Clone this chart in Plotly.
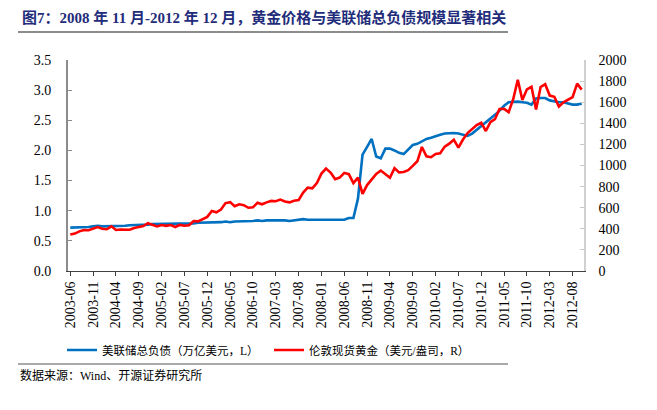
import plotly.graph_objects as go

# ---------------- data ----------------
start_year, start_month, n_months = 2003, 6, 113
months = []
y, m = start_year, start_month
for _ in range(n_months):
    months.append(f"{y}-{m:02d}")
    m += 1
    if m > 12:
        m = 1
        y += 1

fed_assets = [
    0.72, 0.72, 0.72, 0.72, 0.73, 0.74, 0.75, 0.74, 0.74, 0.74,
    0.75, 0.75, 0.75, 0.76, 0.76, 0.76, 0.77, 0.77, 0.78, 0.78,
    0.79, 0.78, 0.78, 0.78, 0.79, 0.79, 0.79, 0.79, 0.80, 0.80,
    0.81, 0.81, 0.81, 0.81, 0.82, 0.81, 0.82, 0.82, 0.82, 0.83,
    0.83, 0.84, 0.83, 0.84, 0.84, 0.84, 0.85, 0.84, 0.83, 0.84,
    0.85, 0.86, 0.85, 0.85, 0.86, 0.86, 0.85, 0.86, 0.86, 0.86,
    0.85, 0.88, 0.88, 1.20, 1.93, 2.06, 2.19, 1.90, 1.87, 2.03,
    2.03, 2.00, 1.96, 1.94, 2.02, 2.09, 2.11, 2.15, 2.19, 2.21,
    2.24, 2.26, 2.28, 2.29, 2.29, 2.28, 2.26, 2.24, 2.28, 2.34,
    2.40, 2.46, 2.53, 2.59, 2.66, 2.74, 2.80, 2.81, 2.81, 2.80,
    2.79, 2.76, 2.86, 2.87, 2.87, 2.83, 2.81, 2.80, 2.80, 2.78,
    2.76, 2.76, 2.78,
]

gold_price = [
    346.0, 354.8, 375.6, 388.0, 386.3, 398.4, 416.3,
    399.8, 395.9, 423.7, 388.5, 393.3, 395.8, 391.4, 407.3, 415.7, 425.6, 453.4, 435.6,
    422.2, 435.5, 427.5, 435.7, 417.3, 437.1, 429.0, 433.3, 473.3, 470.8, 495.7, 513.0,
    568.8, 556.0, 582.0, 644.0, 653.0, 613.5, 632.5, 623.5, 599.3, 603.8, 646.7, 632.0,
    650.5, 664.2, 661.8, 677.0, 659.1, 650.5, 665.5, 672.0, 743.0, 789.5, 783.5, 833.8,
    923.3, 971.5, 933.5, 871.0, 885.8, 930.3, 918.0, 833.0, 884.5, 730.8, 814.5, 869.8,
    919.5, 952.0, 916.5, 883.3, 975.5, 934.5, 939.0, 955.5, 995.8, 1040.0, 1175.8, 1087.5,
    1078.5, 1109.5, 1115.5, 1179.3, 1207.5, 1244.0, 1169.0, 1246.0, 1307.0, 1346.8, 1383.5, 1405.5,
    1327.0, 1411.0, 1439.0, 1535.5, 1536.5, 1505.5, 1628.5, 1813.5, 1620.0, 1722.0, 1746.0, 1531.0,
    1744.0, 1770.0, 1662.5, 1651.3, 1558.0, 1598.5, 1622.0, 1648.5, 1776.0, 1719.0,
]

tick_labels = [
    "2003-06", "2003-11", "2004-04", "2004-09", "2005-02", "2005-07",
    "2005-12", "2006-05", "2006-10", "2007-03", "2007-08", "2008-01",
    "2008-06", "2008-11", "2009-04", "2009-09", "2010-02", "2010-07",
    "2010-12", "2011-05", "2011-10", "2012-03", "2012-08",
]

series_names = ["美联储总负债（万亿美元，L）", "伦敦现货黄金（美元/盎司，R）"]
title_text = "图7：2008 年 11 月-2012 年 12 月，黄金价格与美联储总负债规模显著相关"
source_text = "数据来源：Wind、开源证券研究所"

# ---------------- figure ----------------
# The page body adds an 8px margin, so screen coords = figure coords + 8.
OFF = 8
W, H = 657, 410
PL, PR, PT, PB = 68, 584, 60, 271          # plot box in screen pixels
L = PL - OFF
T = PT - OFF
R = W - (PR - OFF)
B = H - (PB - OFF)
PW, PH = W - L - R, H - T - B

def px_x(px):
    return (px - OFF - L) / PW

def px_y(py):
    return (H - B - (py - OFF)) / PH

FONT = "Liberation Serif, Noto Sans CJK SC, serif"

fig = go.Figure()
fig.add_trace(go.Scatter(
    x=months, y=fed_assets, name=series_names[0], mode="lines",
    line=dict(color="#0070C0", width=2.6), yaxis="y",
))
fig.add_trace(go.Scatter(
    x=months, y=gold_price, name=series_names[1], mode="lines",
    line=dict(color="#FF0000", width=2.6), yaxis="y2",
))

fig.update_layout(
    width=W, height=H,
    margin=dict(l=L, r=R, t=T, b=B, pad=0),
    paper_bgcolor="white", plot_bgcolor="white",
    font=dict(family=FONT, size=14, color="#000000"),
    showlegend=True,
    legend=dict(
        orientation="h", x=px_x(62), y=px_y(350), xanchor="left", yanchor="middle",
        font=dict(family=FONT, size=11.5, color="#000000"),
        itemwidth=30, entrywidth=162, entrywidthmode="pixels",
        bgcolor="rgba(0,0,0,0)", borderwidth=0, tracegroupgap=0,
    ),
    xaxis=dict(
        type="category", categoryorder="array", categoryarray=months,
        range=[-0.5, n_months - 0.5],
        tickmode="array", tickvals=tick_labels, ticktext=tick_labels,
        tickangle=-90, ticks="outside", ticklen=4, tickcolor="#404040",
        showline=True, linecolor="#404040", linewidth=1,
        showgrid=False, zeroline=False,
        tickfont=dict(family=FONT, size=14),
    ),
    yaxis=dict(
        range=[0, 3.5], dtick=0.5, tickformat=".1f",
        ticks="inside", ticklen=4, tickcolor="#8C8C8C",
        showline=True, linecolor="#8C8C8C", linewidth=2,
        showgrid=False, zeroline=False, ticklabelstandoff=12,
        tickfont=dict(family=FONT, size=14),
    ),
    yaxis2=dict(
        range=[0, 2000], dtick=200, overlaying="y", side="right",
        ticks="inside", ticklen=4, tickcolor="#C8C8C8",
        showline=True, linecolor="#D0D0D0", linewidth=1.5,
        showgrid=False, zeroline=False, ticklabelstandoff=10,
        tickfont=dict(family=FONT, size=14),
    ),
    shapes=[
        dict(type="line", xref="paper", yref="paper",
             x0=px_x(18), x1=px_x(508), y0=px_y(32), y1=px_y(32),
             line=dict(color="#8C8C8C", width=2)),
        dict(type="line", xref="paper", yref="paper",
             x0=px_x(18), x1=px_x(508), y0=px_y(364), y1=px_y(364),
             line=dict(color="#8C8C8C", width=1.5)),
    ],
    annotations=[
        dict(text="<b>" + title_text + "</b>", xref="paper", yref="paper",
             x=px_x(20), y=px_y(18), xanchor="left", yanchor="middle",
             showarrow=False, font=dict(family=FONT, size=15, color="#1F2D7A")),
        dict(text=source_text, xref="paper", yref="paper",
             x=px_x(18), y=px_y(375), xanchor="left", yanchor="middle",
             showarrow=False, font=dict(family=FONT, size=12, color="#000000")),
    ],
)

fig.write_html("out.html")
